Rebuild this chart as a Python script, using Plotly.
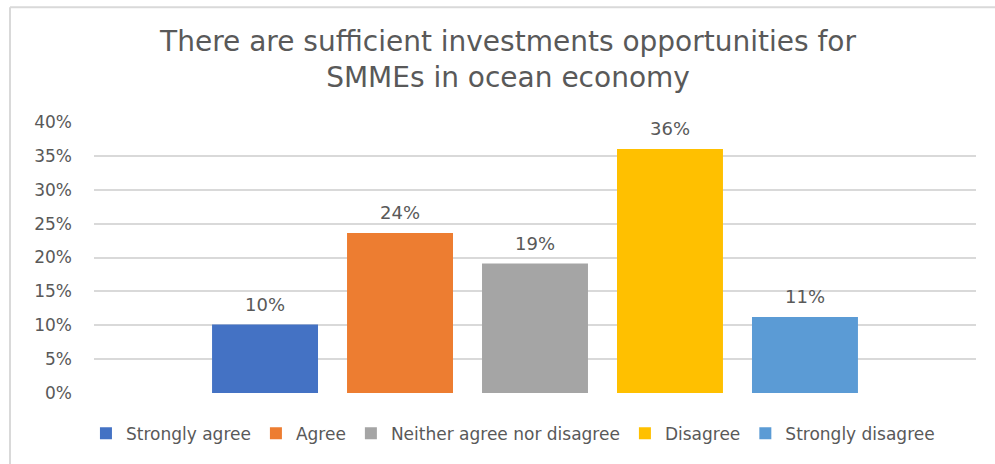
import plotly.graph_objects as go

# Survey responses (share of respondents)
categories = ["Strongly agree", "Agree", "Neither agree nor disagree", "Disagree", "Strongly disagree"]
shares = [0.101, 0.236, 0.191, 0.360, 0.112]
colors = ["#4472C4", "#ED7D31", "#A5A5A5", "#FFC000", "#5B9BD5"]
y_ticks = [0, 0.05, 0.10, 0.15, 0.20, 0.25, 0.30, 0.35, 0.40]

W, H = 995, 464
ML, MR, MT, MB = 94, 19, 122, 69
FONT = "DejaVu Sans"
TEXT = "#595959"
GRID = "#D9D9D9"

fig = go.Figure()
for cat, val, col in zip(categories, shares, colors):
    fig.add_trace(go.Bar(
        x=[cat], y=[val], name=cat,
        marker=dict(color=col, line=dict(width=0)),
        width=0.785,
        hoverinfo="skip",
    ))
    fig.add_annotation(
        x=cat, y=val, text=f"{val:.0%}", showarrow=False,
        yanchor="bottom", yshift=8,
        font=dict(family=FONT, size=18, color=TEXT),
    )

# light frame on the top and left edges of the chart area
pw, ph = W - ML - MR, H - MT - MB
fx = (10 - ML) / pw
fy = (H - MB - 6.5) / ph
fig.add_shape(type="line", xref="paper", yref="paper", x0=fx, x1=1.5, y0=fy, y1=fy,
              line=dict(color=GRID, width=2))
fig.add_shape(type="line", xref="paper", yref="paper", x0=fx, x1=fx, y0=fy, y1=-1,
              line=dict(color=GRID, width=2))

fig.update_layout(
    width=W, height=H,
    margin=dict(l=ML, r=MR, t=MT, b=MB),
    paper_bgcolor="white", plot_bgcolor="white",
    barmode="overlay",
    title=dict(
        text="There are sufficient investments opportunities for<br>SMMEs in ocean economy",
        x=508 / W, xref="container", xanchor="center",
        y=1 - 51 / H, yanchor="top",
        font=dict(family=FONT, size=28, color=TEXT),
    ),
    xaxis=dict(
        type="category", categoryorder="array", categoryarray=categories,
        range=[-1.267, 5.267], showticklabels=False, showgrid=False,
        zeroline=False, showline=False, ticks="",
    ),
    yaxis=dict(
        range=[0, 0.40], tickvals=y_ticks, tickformat=".0%",
        showgrid=True, gridcolor=GRID, gridwidth=1.5,
        zeroline=False, showline=False, ticks="",
        ticklabelstandoff=21,
        tickfont=dict(family=FONT, size=17, color=TEXT),
    ),
    showlegend=True,
    legend=dict(
        orientation="h", x=0.475, xanchor="center", y=-0.15, yanchor="middle",
        font=dict(family=FONT, size=17, color=TEXT),
        itemwidth=30, traceorder="normal",
    ),
)

fig.write_html("out.html")
